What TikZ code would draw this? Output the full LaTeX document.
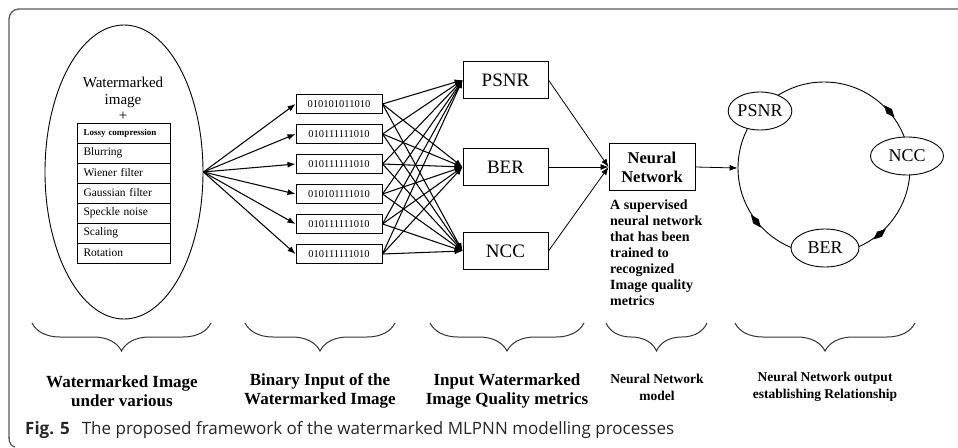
\documentclass[tikz,border=0pt]{standalone}
\usepackage{fontspec}
\setmainfont{Liberation Serif}
\newfontfamily\capfont{Open Sans}
\usetikzlibrary{arrows.meta,shapes.geometric,decorations.pathreplacing}

\begin{document}
\begin{tikzpicture}[x=1pt,y=-1pt,
  every node/.style={inner sep=0pt},
  conn/.style={line width=1.05pt,-{Latex[length=8pt,width=6pt]}},
  thinconn/.style={line width=0.8pt,-{Latex[length=8pt,width=6pt]}},
  attack/.style={draw,line width=0.9pt,minimum width=93pt,minimum height=20pt,
    text width=80pt,align=left,font=\fontsize{11.5}{13}\selectfont},
  binbox/.style={draw,line width=1pt,minimum width=86pt,minimum height=19pt,
    font=\fontsize{10.5}{12}\selectfont},
  metricbox/.style={draw,line width=0.9pt,minimum width=85pt,minimum height=37pt,
    font=\fontsize{19}{21}\selectfont},
  relnode/.style={ellipse,draw,fill=white,line width=0.9pt,
    font=\fontsize{18}{20}\selectfont},
  bracepath/.style={decorate,decoration={brace,mirror,amplitude=28pt},
    line width=1pt,draw=black!80},
  bracelabel/.style={align=center,font=\bfseries\fontsize{17}{19}\selectfont},
  smalllabel/.style={align=center,font=\bfseries\fontsize{13.5}{17}\selectfont},
  tick/.style={fill=black}
]
\useasboundingbox (0,0) rectangle (958,447);

% outer frame
\draw[line width=1.3pt,draw=black!65,rounded corners=10pt]
  (958,9) -- (9,9) -- (9,438);
\draw[line width=1.3pt,draw=black!65]
  (9,437) .. controls (9,443) and (11,446) .. (15,447);

% watermarked image under attacks
\node[ellipse,draw,line width=0.9pt,minimum width=158pt,minimum height=294pt] (wm) at (124,172) {};
\node[align=center,font=\fontsize{15}{16.5}\selectfont] (wmt) at (123,99) {Watermarked\\image\\+};
\node[attack,font=\bfseries\fontsize{9}{10}\selectfont] (r1) at (123.5,133) {Lossy compression};
\node[attack] (r2) at (123.5,153) {Blurring};
\node[attack] (r3) at (123.5,173) {Wiener filter};
\node[attack] (r4) at (123.5,193) {Gaussian filter};
\node[attack] (r5) at (123.5,213) {Speckle noise};
\node[attack] (r6) at (123.5,233) {Scaling};
\node[attack] (r7) at (123.5,253) {Rotation};

% binary inputs
\node[binbox] (b1) at (339,104) {010101011010};
\node[binbox] (b2) at (339,134) {010111111010};
\node[binbox] (b3) at (339,164) {010111111010};
\node[binbox] (b4) at (339,194) {010101111010};
\node[binbox] (b5) at (339,224) {010111111010};
\node[binbox] (b6) at (339,254) {010111111010};

% quality metrics
\node[metricbox] (psnr) at (505.5,80) {PSNR};
\node[metricbox] (ber) at (505.5,167) {BER};
\node[metricbox] (ncc) at (505.5,251) {NCC};

% neural network
\node[draw,line width=0.9pt,minimum width=86pt,minimum height=47pt,align=center,
  font=\bfseries\fontsize{16.5}{19}\selectfont] (nn) at (652,167) {Neural\\Network};
\node[anchor=north west,align=left,font=\bfseries\fontsize{14}{16}\selectfont] (nnd) at (610,200)
  {A supervised\\neural network\\that has been\\trained to\\recognized\\Image quality\\metrics};

% connectors
\foreach \k in {1,...,6} \draw[conn] (wm.east) -- (b\k.west);
\foreach \k in {1,...,6}
  \foreach \m in {psnr,ber,ncc}
    \draw[conn] (b\k.east) -- (\m.west);
\foreach \m in {psnr,ber,ncc} \draw[thinconn] (\m.east) -- (nn.west);

% output relationship cycle
\node[circle,draw,line width=0.9pt,minimum size=172pt] (cyc) at (824,168) {};
\draw[thinconn] (nn.east) -- (cyc.west);
\foreach \a in {41,-50,-142}
  \fill[tick,shift={(cyc.\a)},rotate=\a] (0pt,8pt) -- (3.5pt,0pt) -- (0pt,-8pt) -- (-3.5pt,0pt) -- cycle;
\node[relnode,minimum width=61pt,minimum height=38pt] (op) at (760,111) {PSNR};
\node[relnode,minimum width=73pt,minimum height=38pt] (oc) at (907,156) {NCC};
\node[relnode,minimum width=68pt,minimum height=38pt] (ob) at (825,248) {BER};

% stage braces
\draw[bracepath] (32,323) -- (211,323);
\draw[bracepath] (245,323) -- (395,323);
\draw[bracepath] (430,323) -- (584,323);
\draw[bracepath] (606,323) -- (707,323);
\draw[bracepath] (735,323) -- (915,323);

\node[bracelabel] (l1) at (122,391) {Watermarked Image\\under various};
\node[bracelabel] (l2) at (320,391) {Binary Input of the\\Watermarked Image};
\node[bracelabel] (l3) at (507,391) {Input Watermarked\\Image Quality metrics};
\node[smalllabel] (l4) at (657,387) {Neural Network\\model};
\node[smalllabel] (l5) at (825,387) {Neural Network output\\establishing Relationship};

% caption
\node[anchor=base west,text=black!85,font=\capfont\fontsize{17}{20}\selectfont] (cap) at (25,434)
  {\textbf{Fig. 5}\hspace{0.45em} The proposed framework of the watermarked MLPNN modelling processes};
\end{tikzpicture}
\end{document}
